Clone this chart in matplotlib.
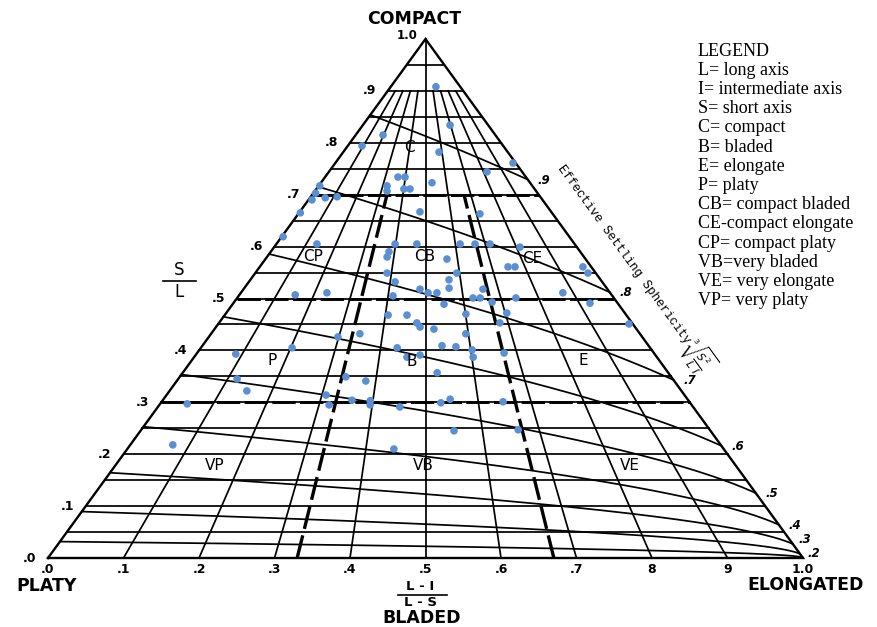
import numpy as np
import matplotlib
matplotlib.use("Agg")
import matplotlib.pyplot as plt

# ---------------- data ----------------
# S/L (vertical axis) and (L-I)/(L-S) (horizontal axis) of each pebble
sl = [0.908, 0.834, 0.815, 0.794, 0.782, 0.761, 0.744, 0.734, 0.734, 0.723,
      0.717, 0.707, 0.711, 0.711, 0.717, 0.703, 0.690, 0.694, 0.696, 0.665,
      0.619, 0.605, 0.667, 0.663, 0.605, 0.605, 0.605, 0.605, 0.605, 0.599,
      0.590, 0.580, 0.576, 0.561, 0.561, 0.561, 0.549, 0.549, 0.549, 0.532,
      0.536, 0.520, 0.518, 0.511, 0.511, 0.518, 0.511, 0.505, 0.501, 0.501,
      0.493, 0.501, 0.491, 0.451, 0.507, 0.511, 0.468, 0.468, 0.453, 0.445,
      0.489, 0.470, 0.472, 0.453, 0.441, 0.432, 0.426, 0.432, 0.405, 0.393,
      0.405, 0.387, 0.391, 0.409, 0.407, 0.401, 0.387, 0.395, 0.357, 0.345,
      0.322, 0.349, 0.341, 0.314, 0.295, 0.304, 0.303, 0.295, 0.291, 0.299,
      0.306, 0.301, 0.297, 0.218, 0.245, 0.247, 0.210]
lils = [0.650, 0.696, 0.196, 0.092, 0.582, 0.985, 0.818, 0.363, 0.398, 0.531,
        0.320, 0.326, 0.401, 0.429, 0.005, 0.010, 0.015, 0.066, 0.115, 0.005,
        0.005, 0.136, 0.478, 0.714, 0.398, 0.471, 0.616, 0.666, 0.716, 0.812,
        0.382, 0.379, 0.567, 0.749, 0.770, 0.975, 0.977, 0.387, 0.592, 0.414,
        0.567, 0.565, 0.485, 0.507, 0.531, 0.658, 0.872, 0.413, 0.626, 0.645,
        0.674, 0.740, 0.928, 0.991, 0.150, 0.233, 0.407, 0.454, 0.479, 0.487,
        0.548, 0.601, 0.704, 0.680, 0.520, 0.594, 0.298, 0.347, 0.203, 0.086,
        0.437, 0.460, 0.488, 0.537, 0.568, 0.603, 0.603, 0.672, 0.524, 0.119,
        0.151, 0.338, 0.380, 0.308, 0.319, 0.360, 0.395, 0.396, 0.452, 0.529,
        0.547, 0.647, 0.051, 0.072, 0.550, 0.663, 0.447]

grid_sl = [0.05, 0.10, 0.15, 0.20, 0.25, 0.30, 0.35, 0.40, 0.45, 0.50,
           0.55, 0.60, 0.65, 0.70, 0.75, 0.80, 0.85, 0.90, 0.95]
radial_x = [0.1, 0.2, 0.3, 0.4, 0.5, 0.6, 0.7, 0.8, 0.9]
sphericity = [0.1, 0.2, 0.3, 0.4, 0.5, 0.6, 0.7, 0.8, 0.9]
sph_labels = ["", ".2", ".3", ".4", ".5", ".6", ".7", ".8", ".9"]
class_sl = [0.3, 0.5, 0.7]
class_x = [0.33, 0.67]
left_ticks = [0.0, 0.1, 0.2, 0.3, 0.4, 0.5, 0.6, 0.7, 0.8, 0.9]
left_labels = [".0", ".1", ".2", ".3", ".4", ".5", ".6", ".7", ".8", ".9"]
bottom_ticks = [0.0, 0.1, 0.2, 0.3, 0.4, 0.5, 0.6, 0.7, 0.8, 0.9, 1.0]
bottom_labels = [".0", ".1", ".2", ".3", ".4", ".5", ".6", ".7", "8", "9", "1.0"]
class_names = ["C", "CP", "CB", "CE", "P", "B", "E", "VP", "VB", "VE"]
class_name_x = [0.40, 0.145, 0.498, 0.834, 0.171, 0.471, 0.837, 0.16, 0.496, 0.83]
class_name_s = [0.79, 0.58, 0.58, 0.578, 0.381, 0.378, 0.381, 0.179, 0.179, 0.179]
legend_lines = ["LEGEND", "L= long axis", "I= intermediate axis", "S= short axis",
                "C= compact", "B= bladed", "E= elongate", "P= platy",
                "CB= compact bladed", "CE-compact elongate", "CP= compact platy",
                "VB=very bladed", "VE= very elongate", "VP= very platy"]


def tern(x, s):
    x = np.asarray(x, float)
    s = np.asarray(s, float)
    return s / 2 + x * (1 - s)


def P(px, py):
    # pixel position -> axes data position (for text placement)
    return (px - 48) / 755, (558 - py) / 519


fig = plt.figure(figsize=(8.77, 6.27), dpi=100)
ax = fig.add_axes([0, 0, 1, 1])
ax.set_xlim(-48 / 755, 829 / 755)
ax.set_ylim(-69 / 519, 558 / 519)
ax.axis("off")

K = "black"
LW = 1.25
# horizontal S/L lines
for s in grid_sl:
    ax.plot([s / 2, 1 - s / 2], [s, s], color=K, lw=LW, zorder=2)
# radial lines
for x in radial_x:
    st = 1.0 if abs(x - 0.5) < 1e-9 else 0.9
    ax.plot([x, tern(x, st)], [0, st], color=K, lw=LW, zorder=2)
# sphericity curves
xx = np.linspace(0, 1, 300)
for psi in sphericity:
    c = psi ** 3
    ss = (c * xx + np.sqrt(c * c * xx * xx + 4 * c * (1 - xx))) / 2
    ax.plot(tern(xx, ss), ss, color=K, lw=LW, zorder=2)
# triangle
ax.plot([0, 0.5, 1, 0], [0, 1, 0, 0], color=K, lw=1.7, zorder=3,
        solid_joinstyle="miter")
# class boundaries
for s in class_sl:
    ax.plot([s / 2, 1 - s / 2], [s, s], color=K, lw=2.1,
            dashes=(8, 1.5), zorder=3)
for x in class_x:
    ax.plot([x, tern(x, 0.7)], [0, 0.7], color=K, lw=2.4,
            dashes=(7, 2), zorder=3)

# points
ax.scatter(tern(lils, sl), sl, s=30, color="#5b8fd4", edgecolors="none",
           zorder=5)

# axis tick labels
lab = dict(fontsize=9, fontweight="bold", color=K, family="DejaVu Sans")
for t, l in zip(left_ticks, left_labels):
    ax.annotate(l, xy=(t / 2, t), xytext=(-8.5, 0), textcoords="offset points",
                ha="right", va="center", **lab)
ax.text(*P(407, 35.5), "1.0", ha="center", va="center",
        fontsize=8.5, fontweight="bold", color=K)
for t, l in zip(bottom_ticks, bottom_labels):
    ax.annotate(l, xy=(t, 0), xytext=(0, -8.5), textcoords="offset points",
                ha="center", va="center", **lab)
for psi, l in zip(sphericity, sph_labels):
    if not l:
        continue
    c = psi ** 3
    if l == ".3":
        off = (8.5, 3.5)
    elif l == ".2":
        off = (10, 0)
    else:
        off = (11.5, -0.5)
    ax.annotate(l, xy=(1 - c / 2, c), xytext=off,
                textcoords="offset points", ha="center", va="center",
                fontsize=8.5, fontweight="bold", style="italic", color=K)

# class names
for n, x, s in zip(class_names, class_name_x, class_name_s):
    ax.text(tern(x, s), s, n, ha="center", va="center", fontsize=11,
            color=K, zorder=6)

big = dict(fontsize=12.5, fontweight="bold", color=K, ha="center",
           va="center")
ax.text(*P(414, 19), "COMPACT", **big)
ax.text(*P(47, 586), "PLATY", **big)
ax.text(*P(806, 585), "ELONGATED", **big)
ax.text(*P(422, 618), "BLADED", **big)

frac = dict(fontsize=9.5, fontweight="bold", color=K, ha="center",
            va="center")
ax.text(*P(420, 586), "L - I", **frac)
ax.text(*P(420, 602.5), "L - S", **frac)
x1, y1 = P(398, 595)
x2, _ = P(447, 595)
ax.plot([x1, x2], [y1, y1], color=K, lw=1.2)
ax.text(*P(179, 270), "S", fontsize=12, color=K, ha="center", va="center")
ax.text(*P(179, 292), "L", fontsize=12, color=K, ha="center", va="center")
x1, y1 = P(163, 281)
x2, _ = P(196, 281)
ax.plot([x1, x2], [y1, y1], color=K, lw=1.2)

# rotated title along right edge
ang = -np.degrees(np.arctan2(519, 377.5))
ax.text(*P(624, 254), "Effective Settling Sphericity", rotation=ang,
        rotation_mode="anchor", ha="center", va="center", fontsize=9,
        family="Liberation Mono", color=K)
ax.text(*P(697, 356), r"$\sqrt[3]{\frac{S^2}{L\ I}}$", rotation=ang,
        rotation_mode="anchor", ha="center", va="center", fontsize=11,
        color=K)

# legend
for i, line in enumerate(legend_lines):
    ax.text(*P(698, 51 + i * 19.2), line, ha="left", va="center",
            fontsize=13, family="Liberation Serif", color=K)

fig.savefig("out.png", dpi=100)
